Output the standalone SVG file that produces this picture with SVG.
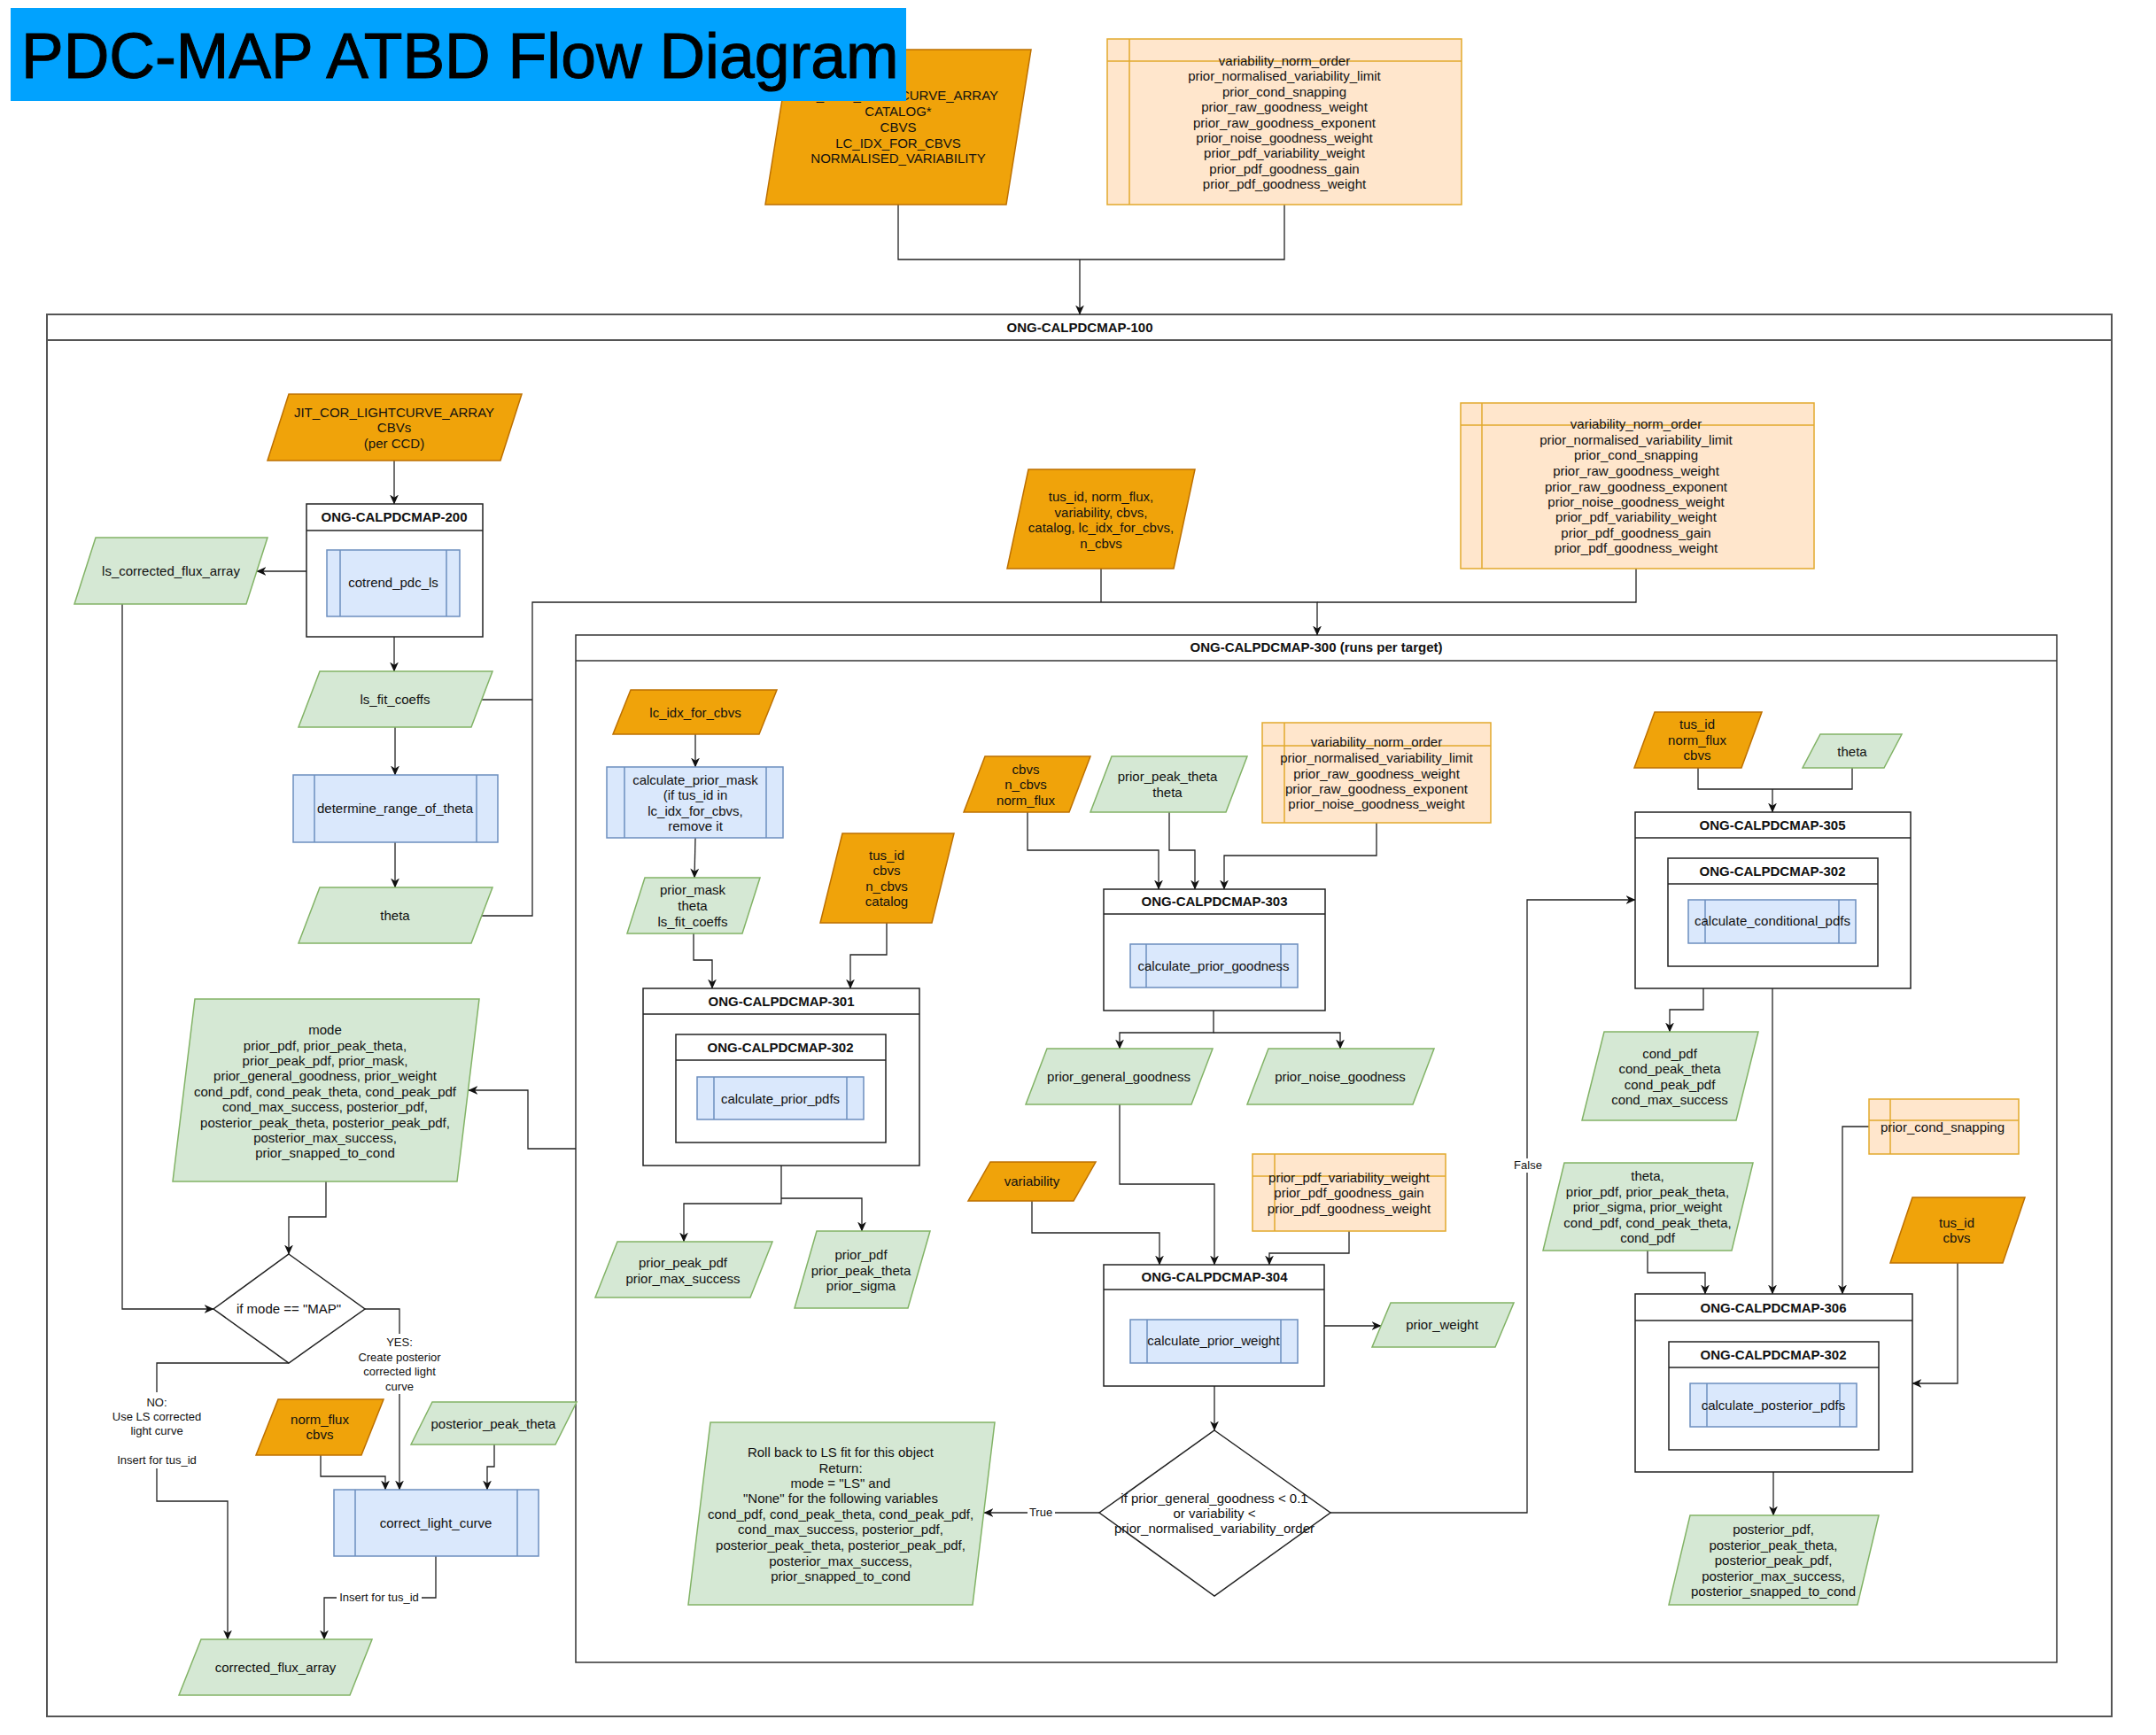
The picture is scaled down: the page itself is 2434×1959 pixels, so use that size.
<svg xmlns="http://www.w3.org/2000/svg" width="2434" height="1959" viewBox="0 0 2434 1959">
<style>
.o{fill:#f0a30a;stroke:#bd7000;stroke-width:1.5}
.g{fill:#d5e8d4;stroke:#82b366;stroke-width:1.5}
.b{fill:#dae8fc;stroke:#6c8ebf;stroke-width:1.5}
.bl{fill:none;stroke:#6c8ebf;stroke-width:1.5}
.p{fill:#ffe6cc;stroke:#e2a92c;stroke-width:1.5}
.pl{fill:none;stroke:#e2a92c;stroke-width:1.5}
.w{fill:#fff;stroke:#222;stroke-width:1.5}
.k{fill:none;stroke:#222;stroke-width:1.5}
.c{fill:none;stroke:#222;stroke-width:1.3}
.ca{fill:none;stroke:#222;stroke-width:1.3;marker-end:url(#ar)}
.lb{fill:#fff;stroke:none}
text{font-family:"Liberation Sans",Arial,Helvetica,sans-serif;font-size:15px;fill:#111;text-anchor:middle}
.h{font-weight:bold}
.s{font-size:13px}
</style>
<defs>
<marker id="ar" viewBox="0 0 10 10" refX="9.5" refY="5" markerWidth="11" markerHeight="11" markerUnits="userSpaceOnUse" orient="auto"><path d="M0,0.5 L10,5 L0,9.5 L3,5 Z" fill="#111"/></marker>
</defs>
<rect width="2434" height="1959" fill="#fff"/>

<!-- containers -->
<g id="ong-100">
<rect x="53" y="355" width="2331" height="1583" fill="#fff" stroke="#555" stroke-width="2"/>
<line x1="53" y1="384" x2="2384" y2="384" stroke="#555" stroke-width="2"/>
<text class="h" x="1219" y="375">ONG-CALPDCMAP-100</text>
</g>
<g id="ong-300">
<rect x="650" y="717" width="1672" height="1160" fill="#fff" stroke="#333" stroke-width="1.5"/>
<line x1="650" y1="746" x2="2322" y2="746" stroke="#333" stroke-width="1.5"/>
<text class="h" x="1486" y="736">ONG-CALPDCMAP-300 (runs per target)</text>
</g>

<!-- connectors -->
<g id="connectors">
<path class="c" d="M1014,231 V293 H1450 V231"/>
<path class="ca" d="M1219,293 V355"/>
<path class="ca" d="M445,520 V569"/>
<path class="ca" d="M346,645 H290"/>
<path class="ca" d="M445,719 V758"/>
<path class="ca" d="M446,821 V875"/>
<path class="ca" d="M446,951 V1002"/>
<path class="c" d="M544,790 H601"/>
<path class="ca" d="M544,1034 H601 V680 H1487 V717"/>
<path class="c" d="M1243,642 V680"/>
<path class="c" d="M1847,642 V680 H1487"/>
<path class="ca" d="M138,682 V1478 H241"/>
<path class="ca" d="M650,1297 H596 V1231 H529"/>
<path class="ca" d="M368,1334 V1374 H326 V1416"/>
<path class="ca" d="M412,1478 H451 V1682"/>
<path class="ca" d="M326,1539 H177 V1695 H257 V1851"/>
<path class="ca" d="M362,1643 V1667 H435 V1682"/>
<path class="ca" d="M558,1631 V1656 H550 V1682"/>
<path class="ca" d="M492,1757 V1804 H366 V1851"/>
<path class="ca" d="M785,829 V866"/>
<path class="ca" d="M785,946 L784,991"/>
<path class="ca" d="M783,1054 V1084 H804 V1116"/>
<path class="ca" d="M1001,1042 V1078 H960 V1116"/>
<path class="ca" d="M882,1316 V1359 H772 V1402"/>
<path class="ca" d="M882,1353 H973 V1390"/>
<path class="ca" d="M1160,917 V960 H1308 V1004"/>
<path class="ca" d="M1320,917 V960 H1349 V1004"/>
<path class="ca" d="M1554,929 V966 H1382 V1004"/>
<path class="ca" d="M1370,1141 V1166 H1264 V1184"/>
<path class="ca" d="M1370,1166 H1513 V1184"/>
<path class="ca" d="M1264,1247 V1337 H1371 V1428"/>
<path class="ca" d="M1165,1356 V1392 H1309 V1428"/>
<path class="ca" d="M1523,1390 V1415 H1433 V1428"/>
<path class="ca" d="M1495,1497 H1559"/>
<path class="ca" d="M1371,1565 V1615"/>
<path class="ca" d="M1241,1708 H1111"/>
<path class="ca" d="M1502,1708 H1724 V1016 H1846"/>
<path class="c" d="M1917,867 V891 H2091 V867"/>
<path class="ca" d="M2001,891 V917"/>
<path class="ca" d="M1923,1116 V1140 H1885 V1165"/>
<path class="ca" d="M2001,1116 V1461"/>
<path class="ca" d="M1860,1412 V1437 H1925 V1461"/>
<path class="ca" d="M2110,1272 H2080 V1461"/>
<path class="ca" d="M2210,1426 V1562 H2159"/>
<path class="ca" d="M2002,1662 V1711"/>
<rect class="lb" x="393" y="1506" width="116" height="68"/>
<text class="s" x="451" y="1520">YES:</text>
<text class="s" x="451" y="1537">Create posterior</text>
<text class="s" x="451" y="1553">corrected light</text>
<text class="s" x="451" y="1570">curve</text>
<rect class="lb" x="118" y="1572" width="118" height="86"/>
<text class="s" x="177" y="1588">NO:</text>
<text class="s" x="177" y="1604">Use LS corrected</text>
<text class="s" x="177" y="1620">light curve</text>
<text class="s" x="177" y="1653">Insert for tus_id</text>
<rect class="lb" x="380" y="1797" width="96" height="15"/>
<text class="s" x="428" y="1808">Insert for tus_id</text>
<rect class="lb" x="1160" y="1701" width="31" height="15"/>
<text class="s" x="1175" y="1712">True</text>
<rect class="lb" x="1707" y="1308" width="36" height="16"/>
<text class="s" x="1725" y="1320">False</text>
</g>

<!-- top inputs -->
<g id="in-top-arrays">
<polygon class="o" points="892,56 1164,56 1136,231 864,231"/>
<text x="1014" y="113">JIT_COR_LIGHTCURVE_ARRAY</text>
<text x="1014" y="131">CATALOG*</text>
<text x="1014" y="149">CBVS</text>
<text x="1014" y="167">LC_IDX_FOR_CBVS</text>
<text x="1014" y="184">NORMALISED_VARIABILITY</text>
</g>
<g id="title">
<rect x="12" y="9" width="1011" height="105" fill="#01a2fe"/>
<text x="24" y="88" style="font-size:71.5px;text-anchor:start;fill:#000;stroke:#000;stroke-width:1">PDC-MAP ATBD Flow Diagram</text>
</g>
<g id="params-top">
<rect class="p" x="1250" y="44" width="400" height="187"/>
<path class="pl" d="M1275,44 V231 M1250,69 H1650"/>
<text x="1450" y="74">variability_norm_order</text>
<text x="1450" y="91">prior_normalised_variability_limit</text>
<text x="1450" y="109">prior_cond_snapping</text>
<text x="1450" y="126">prior_raw_goodness_weight</text>
<text x="1450" y="144">prior_raw_goodness_exponent</text>
<text x="1450" y="161">prior_noise_goodness_weight</text>
<text x="1450" y="178">prior_pdf_variability_weight</text>
<text x="1450" y="196">prior_pdf_goodness_gain</text>
<text x="1450" y="213">prior_pdf_goodness_weight</text>
</g>

<!-- left column -->
<g id="in-jit">
<polygon class="o" points="326,445 589,445 565,520 302,520"/>
<text x="445" y="471">JIT_COR_LIGHTCURVE_ARRAY</text>
<text x="445" y="488">CBVs</text>
<text x="445" y="506">(per CCD)</text>
</g>
<g id="ong-200">
<rect class="w" x="346" y="569" width="199" height="150"/>
<line class="k" x1="346" y1="599" x2="545" y2="599"/>
<text class="h" x="445" y="589">ONG-CALPDCMAP-200</text>
<rect class="b" x="369" y="621" width="150" height="75"/>
<path class="bl" d="M384,621 V696 M504,621 V696"/>
<text x="444" y="663">cotrend_pdc_ls</text>
</g>
<g id="ls-corrected">
<polygon class="g" points="108,607 302,607 278,682 84,682"/>
<text x="193" y="650">ls_corrected_flux_array</text>
</g>
<g id="ls-fit">
<polygon class="g" points="361,758 556,758 532,821 337,821"/>
<text x="446" y="795">ls_fit_coeffs</text>
</g>
<g id="determine-theta">
<rect class="b" x="331" y="875" width="231" height="76"/>
<path class="bl" d="M355,875 V951 M538,875 V951"/>
<text x="446" y="918">determine_range_of_theta</text>
</g>
<g id="theta-left">
<polygon class="g" points="361,1002 556,1002 532,1065 337,1065"/>
<text x="446" y="1039">theta</text>
</g>
<g id="mode-out">
<polygon class="g" points="220,1128 541,1128 516,1334 195,1334"/>
<text x="367" y="1168">mode</text>
<text x="367" y="1186">prior_pdf, prior_peak_theta,</text>
<text x="367" y="1203">prior_peak_pdf, prior_mask,</text>
<text x="367" y="1220">prior_general_goodness, prior_weight</text>
<text x="367" y="1238">cond_pdf, cond_peak_theta, cond_peak_pdf</text>
<text x="367" y="1255">cond_max_success, posterior_pdf,</text>
<text x="367" y="1273">posterior_peak_theta, posterior_peak_pdf,</text>
<text x="367" y="1290">posterior_max_success,</text>
<text x="367" y="1307">prior_snapped_to_cond</text>
</g>
<g id="if-map">
<polygon class="w" points="326,1416 412,1478 326,1539 241,1478"/>
<text x="326" y="1483">if mode == "MAP"</text>
</g>
<g id="in-normflux">
<polygon class="o" points="314,1580 433,1580 408,1643 289,1643"/>
<text x="361" y="1608">norm_flux</text>
<text x="361" y="1625">cbvs</text>
</g>
<g id="post-peak-theta">
<polygon class="g" points="488,1583 651,1583 627,1631 464,1631"/>
<text x="557" y="1613">posterior_peak_theta</text>
</g>
<g id="correct-lc">
<rect class="b" x="377" y="1682" width="231" height="75"/>
<path class="bl" d="M401,1682 V1757 M584,1682 V1757"/>
<text x="492" y="1725">correct_light_curve</text>
</g>
<g id="corrected-flux">
<polygon class="g" points="227,1851 420,1851 395,1914 202,1914"/>
<text x="311" y="1888">corrected_flux_array</text>
</g>

<!-- 300 internals -->
<g id="in-tus-norm">
<polygon class="o" points="1161,530 1349,530 1325,642 1137,642"/>
<text x="1243" y="566">tus_id, norm_flux,</text>
<text x="1243" y="584">variability, cbvs,</text>
<text x="1243" y="601">catalog, lc_idx_for_cbvs,</text>
<text x="1243" y="619">n_cbvs</text>
</g>
<g id="params-100">
<rect class="p" x="1649" y="455" width="399" height="187"/>
<path class="pl" d="M1673,455 V642 M1649,480 H2048"/>
<text x="1847" y="484">variability_norm_order</text>
<text x="1847" y="502">prior_normalised_variability_limit</text>
<text x="1847" y="519">prior_cond_snapping</text>
<text x="1847" y="537">prior_raw_goodness_weight</text>
<text x="1847" y="555">prior_raw_goodness_exponent</text>
<text x="1847" y="572">prior_noise_goodness_weight</text>
<text x="1847" y="589">prior_pdf_variability_weight</text>
<text x="1847" y="607">prior_pdf_goodness_gain</text>
<text x="1847" y="624">prior_pdf_goodness_weight</text>
</g>
<g id="in-lcidx">
<polygon class="o" points="712,779 877,779 857,829 692,829"/>
<text x="785" y="810">lc_idx_for_cbvs</text>
</g>
<g id="calc-prior-mask">
<rect class="b" x="685" y="866" width="199" height="80"/>
<path class="bl" d="M705,866 V946 M865,866 V946"/>
<text x="785" y="886">calculate_prior_mask</text>
<text x="785" y="903">(if tus_id in</text>
<text x="785" y="921">lc_idx_for_cbvs,</text>
<text x="785" y="938">remove it</text>
</g>
<g id="prior-mask">
<polygon class="g" points="728,991 858,991 838,1054 708,1054"/>
<text x="782" y="1010">prior_mask</text>
<text x="782" y="1028">theta</text>
<text x="782" y="1046">ls_fit_coeffs</text>
</g>
<g id="in-tus-catalog">
<polygon class="o" points="951,941 1077,941 1052,1042 926,1042"/>
<text x="1001" y="971">tus_id</text>
<text x="1001" y="988">cbvs</text>
<text x="1001" y="1006">n_cbvs</text>
<text x="1001" y="1023">catalog</text>
</g>
<g id="ong-301">
<rect class="w" x="726" y="1116" width="312" height="200"/>
<line class="k" x1="726" y1="1145" x2="1038" y2="1145"/>
<text class="h" x="882" y="1136">ONG-CALPDCMAP-301</text>
<rect class="w" x="763" y="1168" width="237" height="122"/>
<line class="k" x1="763" y1="1197" x2="1000" y2="1197"/>
<text class="h" x="881" y="1188">ONG-CALPDCMAP-302</text>
<rect class="b" x="787" y="1216" width="188" height="48"/>
<path class="bl" d="M806,1216 V1264 M956,1216 V1264"/>
<text x="881" y="1246">calculate_prior_pdfs</text>
</g>
<g id="prior-peak-pdf">
<polygon class="g" points="697,1402 872,1402 847,1465 672,1465"/>
<text x="771" y="1431">prior_peak_pdf</text>
<text x="771" y="1449">prior_max_success</text>
</g>
<g id="prior-pdf">
<polygon class="g" points="922,1390 1050,1390 1025,1477 897,1477"/>
<text x="972" y="1422">prior_pdf</text>
<text x="972" y="1440">prior_peak_theta</text>
<text x="972" y="1457">prior_sigma</text>
</g>
<g id="in-cbvs-303">
<polygon class="o" points="1112,854 1231,854 1207,917 1088,917"/>
<text x="1158" y="874">cbvs</text>
<text x="1158" y="891">n_cbvs</text>
<text x="1158" y="909">norm_flux</text>
</g>
<g id="ppt-theta">
<polygon class="g" points="1255,854 1408,854 1384,917 1231,917"/>
<text x="1318" y="882">prior_peak_theta</text>
<text x="1318" y="900">theta</text>
</g>
<g id="params-303">
<rect class="p" x="1425" y="816" width="258" height="113"/>
<path class="pl" d="M1450,816 V929 M1425,842 H1683"/>
<text x="1554" y="843">variability_norm_order</text>
<text x="1554" y="861">prior_normalised_variability_limit</text>
<text x="1554" y="879">prior_raw_goodness_weight</text>
<text x="1554" y="896">prior_raw_goodness_exponent</text>
<text x="1554" y="913">prior_noise_goodness_weight</text>
</g>
<g id="ong-303">
<rect class="w" x="1246" y="1004" width="250" height="137"/>
<line class="k" x1="1246" y1="1032" x2="1496" y2="1032"/>
<text class="h" x="1371" y="1023">ONG-CALPDCMAP-303</text>
<rect class="b" x="1276" y="1066" width="189" height="49"/>
<path class="bl" d="M1294,1066 V1115 M1446,1066 V1115"/>
<text x="1370" y="1096">calculate_prior_goodness</text>
</g>
<g id="prior-general-goodness">
<polygon class="g" points="1182,1184 1369,1184 1345,1247 1158,1247"/>
<text x="1263" y="1221">prior_general_goodness</text>
</g>
<g id="prior-noise-goodness">
<polygon class="g" points="1432,1184 1619,1184 1595,1247 1408,1247"/>
<text x="1513" y="1221">prior_noise_goodness</text>
</g>
<g id="in-variability">
<polygon class="o" points="1118,1312 1237,1312 1212,1356 1093,1356"/>
<text x="1165" y="1339">variability</text>
</g>
<g id="params-304">
<rect class="p" x="1414" y="1303" width="218" height="87"/>
<path class="pl" d="M1439,1303 V1390 M1414,1328 H1632"/>
<text x="1523" y="1335">prior_pdf_variability_weight</text>
<text x="1523" y="1352">prior_pdf_goodness_gain</text>
<text x="1523" y="1370">prior_pdf_goodness_weight</text>
</g>
<g id="ong-304">
<rect class="w" x="1246" y="1428" width="249" height="137"/>
<line class="k" x1="1246" y1="1456" x2="1495" y2="1456"/>
<text class="h" x="1371" y="1447">ONG-CALPDCMAP-304</text>
<rect class="b" x="1276" y="1490" width="189" height="49"/>
<path class="bl" d="M1295,1490 V1539 M1446,1490 V1539"/>
<text x="1370" y="1519">calculate_prior_weight</text>
</g>
<g id="prior-weight">
<polygon class="g" points="1570,1471 1709,1471 1688,1521 1549,1521"/>
<text x="1628" y="1501">prior_weight</text>
</g>
<g id="if-goodness">
<polygon class="w" points="1371,1615 1502,1708 1371,1802 1241,1708"/>
<text x="1371" y="1697">if prior_general_goodness &lt; 0.1</text>
<text x="1371" y="1714">or variability &lt;</text>
<text x="1371" y="1731">prior_normalised_variability_order</text>
</g>
<g id="rollback">
<polygon class="g" points="802,1606 1123,1606 1098,1812 777,1812"/>
<text x="949" y="1645">Roll back to LS fit for this object</text>
<text x="949" y="1663">Return:</text>
<text x="949" y="1680">mode = "LS" and</text>
<text x="949" y="1697">"None" for the following variables</text>
<text x="949" y="1715">cond_pdf, cond_peak_theta, cond_peak_pdf,</text>
<text x="949" y="1732">cond_max_success, posterior_pdf,</text>
<text x="949" y="1750">posterior_peak_theta, posterior_peak_pdf,</text>
<text x="949" y="1768">posterior_max_success,</text>
<text x="949" y="1785">prior_snapped_to_cond</text>
</g>
<g id="in-tus-305">
<polygon class="o" points="1868,804 1989,804 1966,867 1845,867"/>
<text x="1916" y="823">tus_id</text>
<text x="1916" y="841">norm_flux</text>
<text x="1916" y="858">cbvs</text>
</g>
<g id="theta-305">
<polygon class="g" points="2055,829 2147,829 2127,867 2035,867"/>
<text x="2091" y="854">theta</text>
</g>
<g id="ong-305">
<rect class="w" x="1846" y="917" width="311" height="199"/>
<line class="k" x1="1846" y1="946" x2="2157" y2="946"/>
<text class="h" x="2001" y="937">ONG-CALPDCMAP-305</text>
<rect class="w" x="1883" y="969" width="237" height="122"/>
<line class="k" x1="1883" y1="998" x2="2120" y2="998"/>
<text class="h" x="2001" y="989">ONG-CALPDCMAP-302</text>
<rect class="b" x="1906" y="1016" width="189" height="49"/>
<path class="bl" d="M1925,1016 V1065 M2076,1016 V1065"/>
<text x="2001" y="1045">calculate_conditional_pdfs</text>
</g>
<g id="cond-out">
<polygon class="g" points="1811,1165 1985,1165 1960,1265 1786,1265"/>
<text x="1885" y="1195">cond_pdf</text>
<text x="1885" y="1212">cond_peak_theta</text>
<text x="1885" y="1230">cond_peak_pdf</text>
<text x="1885" y="1247">cond_max_success</text>
</g>
<g id="theta-list">
<polygon class="g" points="1766,1313 1979,1313 1955,1412 1742,1412"/>
<text x="1860" y="1333">theta,</text>
<text x="1860" y="1351">prior_pdf, prior_peak_theta,</text>
<text x="1860" y="1368">prior_sigma, prior_weight</text>
<text x="1860" y="1386">cond_pdf, cond_peak_theta,</text>
<text x="1860" y="1403">cond_pdf</text>
</g>
<g id="params-306">
<rect class="p" x="2110" y="1241" width="169" height="62"/>
<path class="pl" d="M2134,1241 V1303 M2110,1265 H2279"/>
<text x="2193" y="1278">prior_cond_snapping</text>
</g>
<g id="in-tus-306">
<polygon class="o" points="2159,1352 2286,1352 2261,1426 2134,1426"/>
<text x="2209" y="1386">tus_id</text>
<text x="2209" y="1403">cbvs</text>
</g>
<g id="ong-306">
<rect class="w" x="1846" y="1461" width="313" height="201"/>
<line class="k" x1="1846" y1="1491" x2="2159" y2="1491"/>
<text class="h" x="2002" y="1482">ONG-CALPDCMAP-306</text>
<rect class="w" x="1884" y="1515" width="237" height="122"/>
<line class="k" x1="1884" y1="1544" x2="2121" y2="1544"/>
<text class="h" x="2002" y="1535">ONG-CALPDCMAP-302</text>
<rect class="b" x="1908" y="1562" width="188" height="49"/>
<path class="bl" d="M1927,1562 V1611 M2077,1562 V1611"/>
<text x="2002" y="1592">calculate_posterior_pdfs</text>
</g>
<g id="posterior-out">
<polygon class="g" points="1908,1711 2121,1711 2097,1812 1884,1812"/>
<text x="2002" y="1732">posterior_pdf,</text>
<text x="2002" y="1750">posterior_peak_theta,</text>
<text x="2002" y="1767">posterior_peak_pdf,</text>
<text x="2002" y="1785">posterior_max_success,</text>
<text x="2002" y="1802">posterior_snapped_to_cond</text>
</g>
</svg>
